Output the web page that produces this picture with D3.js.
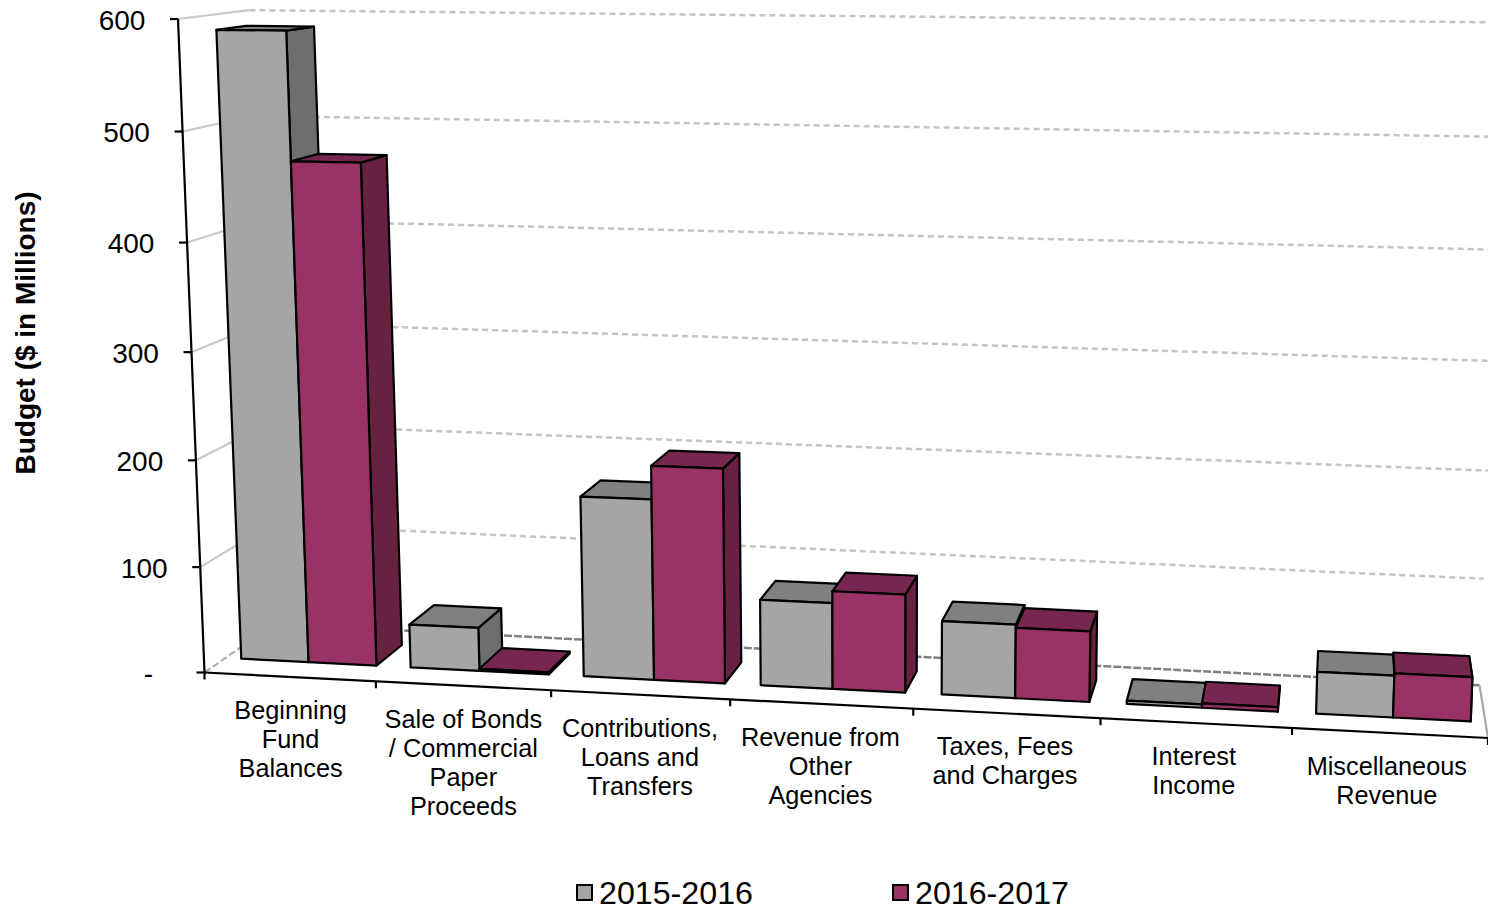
<!DOCTYPE html>
<html>
<head>
<meta charset="utf-8">
<script src="https://cdn.jsdelivr.net/npm/d3@7"></script>
<style>
  html, body { margin: 0; padding: 0; background: #fff; overflow: hidden; }
  text { font-family: "Liberation Sans", Arial, sans-serif; fill: #000; }
</style>
</head>
<body>
<svg id="container" width="1488" height="908"></svg>
<script>
const categories = [
    ["Beginning", "Fund", "Balances"],
    ["Sale of Bonds", "/ Commercial", "Paper", "Proceeds"],
    ["Contributions,", "Loans and", "Transfers"],
    ["Revenue from", "Other", "Agencies"],
    ["Taxes, Fees", "and Charges"],
    ["Interest", "Income"],
    ["Miscellaneous", "Revenue"]
];
const seriesNames = ["2015-2016", "2016-2017"];
const values2015 = [588, 41, 169, 80, 68, 3, 38];
const values2016 = [470, 2, 200, 91, 65, 4, 40];
const valueTicks = [0, 100, 200, 300, 400, 500, 600];

const colors = {
    "2015-2016": { front: "#a5a5a5", top: "#808080", side: "#6e6e6e" },
    "2016-2017": { front: "#993366", top: "#77264f", side: "#662240" }
};

const svg = d3.select("#container");

// front plane of the chart box, as four screen corners
const frontQuad = [[204.5, 672.5], [1488, 738], [1515, 32], [178, 19]];
// everything shrinks toward this point as it goes back in depth
const depthVanish = [1350, -125];
const depthShrink = 0.061;

const homography = squareToQuad(frontQuad);

function squareToQuad(q) {
    const [[x0, y0], [x1, y1], [x2, y2], [x3, y3]] = q;
    const dx1 = x1 - x2, dx2 = x3 - x2, sx = x0 - x1 + x2 - x3;
    const dy1 = y1 - y2, dy2 = y3 - y2, sy = y0 - y1 + y2 - y3;
    const den = dx1 * dy2 - dx2 * dy1;
    const g = (sx * dy2 - dx2 * sy) / den;
    const h = (dx1 * sy - sx * dy1) / den;
    return {
        a: x1 - x0 + g * x1, b: x3 - x0 + h * x3, c: x0,
        d: y1 - y0 + g * y1, e: y3 - y0 + h * y3, f: y0,
        g, h
    };
}

// u, v, depth all 0..1
function project(u, v, depth) {
    const m = homography;
    const w = m.g * u + m.h * v + 1;
    const px = (m.a * u + m.b * v + m.c) / w;
    const py = (m.d * u + m.e * v + m.f) / w;
    const s = 1 - depthShrink * depth;
    return [depthVanish[0] + (px - depthVanish[0]) * s,
            depthVanish[1] + (py - depthVanish[1]) * s];
}

const catIndex = d3.range(categories.length);
// bars sit a touch off the floor ticks in the original
const x0 = d3.scaleBand()
    .domain(catIndex)
    .range([-0.0008, 1.0035])
    .paddingInner(0.2)
    .paddingOuter(0.1);
const x1 = d3.scaleBand()
    .domain(seriesNames)
    .range([0, x0.bandwidth()]);
const labelBand = d3.scaleBand()
    .domain(catIndex)
    .range([0.0005, 0.9975]);
const y = d3.scaleLinear().domain([0, 600]).range([0, 1]);
const barDepth = d3.scaleLinear().domain([0, 1]).range([0.30, 0.72]);

const line = d3.line();
const poly = pts => line(pts) + "Z";

// walls
const walls = svg.append("g").attr("fill", "none");
valueTicks.forEach(t => {
    const v = y(t);
    if (t > 0) {
        walls.append("path")
            .attr("d", line([project(0, v, 0), project(0, v, 1)]))
            .attr("stroke", "#c8c8c8").attr("stroke-width", 2.2);
    }
    walls.append("path")
        .attr("d", line([project(0, v, 1), project(1, v, 1)]))
        .attr("stroke", t > 0 ? "#c4c4c4" : "#808080")
        .attr("stroke-width", 2.5)
        .attr("stroke-dasharray", t > 0 ? "6 4" : "8 2");
});
walls.append("path")
    .attr("d", line([project(0, 0, 0), project(0, 0, 1)]))
    .attr("stroke", "#b0b0b0").attr("stroke-width", 2.2).attr("stroke-dasharray", "7 3");
walls.append("path")
    .attr("d", line([project(1, 0, 1), project(1, 0, 0)]))
    .attr("stroke", "#a8a8a8").attr("stroke-width", 2.2);

// axes
const axes = svg.append("g").attr("fill", "none").attr("stroke", "#000").attr("stroke-width", 2.2);
axes.append("path").attr("d", line([project(0, 1, 0), project(0, 0, 0)]));
axes.append("path").attr("d", line([project(0, 0, 0), project(1, 0, 0)]));
valueTicks.forEach(t => {
    const p = project(0, y(t), 0);
    axes.append("path").attr("d", line([[p[0] - 8, p[1]], p]));
});
d3.range(categories.length + 1).forEach(i => {
    const u = i / categories.length;
    const p = project(u, 0, 0);
    axes.append("path").attr("d", line([p, [p[0], p[1] + 7]]));
});

// bars
function drawBar(g, i, name, value) {
    const u0 = x0(i) + x1(name), u1 = u0 + x1.bandwidth();
    const v = y(value);
    const d0 = barDepth(0), d1 = barDepth(1);
    const c = colors[name];
    const face = (pts, fill) => g.append("path")
        .attr("d", poly(pts))
        .attr("fill", fill)
        .attr("stroke", "#000")
        .attr("stroke-width", 2.2)
        .attr("stroke-linejoin", "round");
    face([project(u1, 0, d0), project(u1, 0, d1), project(u1, v, d1), project(u1, v, d0)], c.side);
    face([project(u0, v, d0), project(u1, v, d0), project(u1, v, d1), project(u0, v, d1)], c.top);
    face([project(u0, 0, d0), project(u1, 0, d0), project(u1, v, d0), project(u0, v, d0)], c.front);
}
const bars = svg.append("g");
categories.forEach((cat, i) => {
    drawBar(bars, i, seriesNames[0], values2015[i]);
    drawBar(bars, i, seriesNames[1], values2016[i]);
});

// value labels
svg.append("g").selectAll("text")
    .data(valueTicks)
    .join("text")
    .attr("x", t => project(0, y(t), 0)[0] - 56)
    .attr("y", t => project(0, y(t), 0)[1] + 1)
    .attr("text-anchor", "middle")
    .attr("dominant-baseline", "central")
    .attr("font-size", 28)
    .text(t => t === 0 ? "-" : t);

// category labels
const catFont = 25.3, catLead = 29;
const catLabels = svg.append("g");
categories.forEach((lines, i) => {
    const p = project(labelBand(i) + labelBand.bandwidth() / 2, 0, 0);
    lines.forEach((txt, j) => {
        catLabels.append("text")
            .attr("x", p[0] + 0.5)
            .attr("y", p[1] + 42 + j * catLead)
            .attr("text-anchor", "middle")
            .attr("font-size", catFont)
            .text(txt);
    });
});

// y title
svg.append("text")
    .attr("transform", "translate(35,333) rotate(-90)")
    .attr("text-anchor", "middle")
    .attr("font-size", 28)
    .attr("font-weight", "bold")
    .text("Budget ($ in Millions)");

// legend
const legendX = d3.scaleOrdinal().domain(seriesNames).range([577, 893]);
const legend = svg.append("g").selectAll("g")
    .data(seriesNames)
    .join("g")
    .attr("transform", d => `translate(${legendX(d)},885)`);
legend.append("rect")
    .attr("width", 15).attr("height", 15)
    .attr("fill", d => colors[d].front)
    .attr("stroke", "#000").attr("stroke-width", 2);
legend.append("text")
    .attr("x", 22).attr("y", 19)
    .attr("font-size", 32.2)
    .text(d => d);
</script>
</body>
</html>
